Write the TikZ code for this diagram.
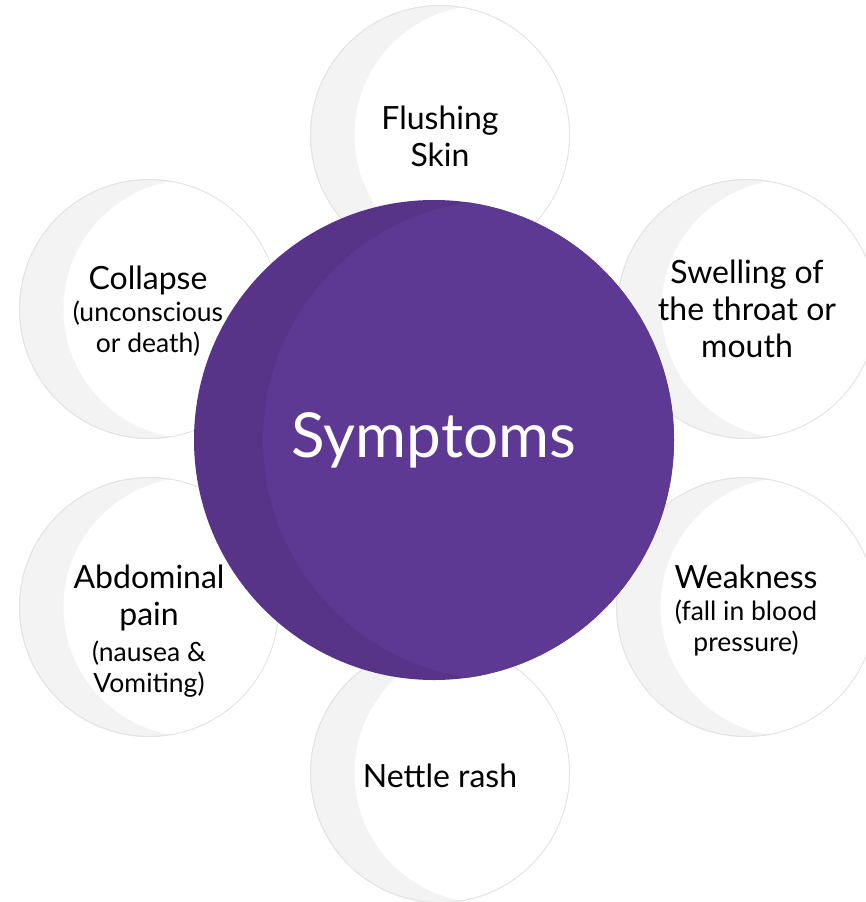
\documentclass[tikz,border=0pt]{standalone}
\usepackage{fontspec}
\setmainfont{Lato}
\definecolor{hubmain}{HTML}{5D3993}
\definecolor{hubdark}{HTML}{573488}
\definecolor{crescent}{HTML}{F3F3F3}
\definecolor{rim}{HTML}{E3E3E3}
\newcommand\smalltxt{\fontsize{26.5}{32}\selectfont}
\begin{document}
\begin{tikzpicture}[x=1pt,y=-1pt,
  petal/.style={circle, minimum size=259pt, inner sep=0pt, fill=crescent, draw=rim, line width=0.8pt},
  hub/.style={circle, minimum size=480pt, inner sep=0pt, fill=hubdark},
  lbl/.style={align=center, text=black, inner sep=0pt, font=\fontsize{32}{37}\selectfont}]
\useasboundingbox (0,0) rectangle (866,902);

\foreach \n/\px/\py in {pTop/440/135, pTR/747/309, pBR/746/607, pBot/440/773, pTL/149/309, pBL/149/607}{
  \node[petal] (\n) at (\px,\py) {};
  \begin{scope}
    \clip (\px,\py) circle[radius=129.5pt];
    \fill[white] (\px+44,\py) circle[radius=129.5pt];
  \end{scope}
  \draw[rim, line width=0.8pt] (\px,\py) circle[radius=129.5pt];
}

\node[lbl] (tTop) at (440,136) {Flushing\\Skin};
\node[lbl] (tTR) at (747,309) {Swelling of\\the throat or\\mouth};
\node[lbl] (tBR) at (746,610) {Weakness\\[-5pt]{\smalltxt (fall in blood}\\[-6pt]{\smalltxt pressure)}};
\node[lbl] (tBot) at (440,776) {Nettle rash};
\node[lbl] (tTL) at (148,311) {Collapse\\[-5pt]{\smalltxt (unconscious}\\[-6pt]{\smalltxt or death)}};
\node[lbl] (tBL) at (149,631) {Abdominal\\pain\\[-1pt]{\smalltxt (nausea \&}\\[-6pt]{\smalltxt Vomiting)}};

\node[hub] (hub) at (434,440) {};
\begin{scope}
  \clip (434,440) circle[radius=240pt];
  \fill[hubmain] (434+69,440) circle[radius=240pt];
\end{scope}
\node[text=white, font=\fontsize{62}{70}\selectfont] (title) at (434,440) {Symptoms};
\end{tikzpicture}
\end{document}
